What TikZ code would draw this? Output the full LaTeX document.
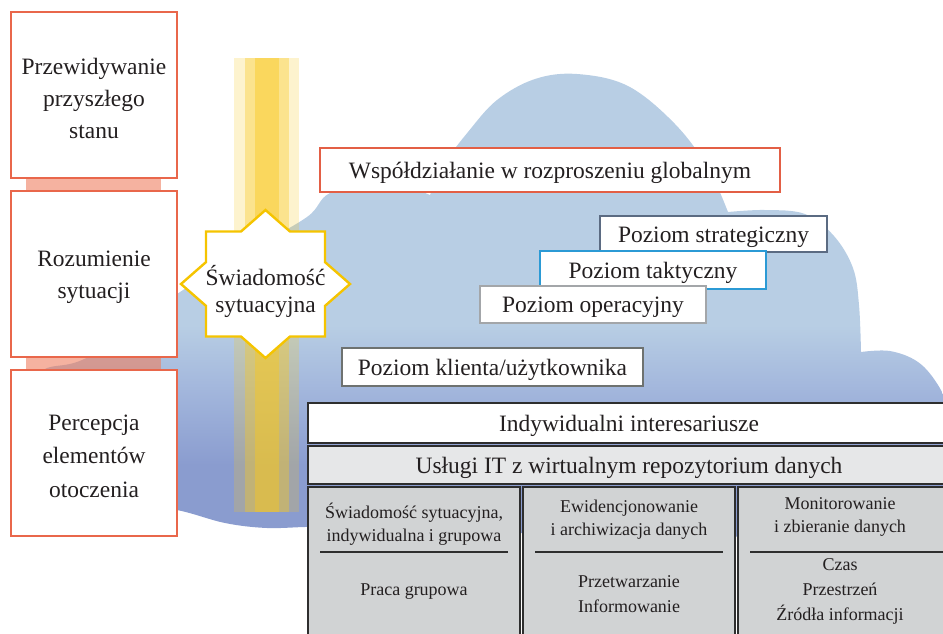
\documentclass[tikz,border=0pt]{standalone}
\usepackage{fontspec}
\setmainfont{Liberation Serif}
\usetikzlibrary{calc}
\definecolor{txt}{HTML}{231F20}
\definecolor{redb}{HTML}{E9674B}
\definecolor{redw}{HTML}{E35F45}
\definecolor{barc}{HTML}{EE7F60}
\definecolor{cloudtop}{HTML}{B8CEE4}
\definecolor{cloudmid}{HTML}{A2B6DC}
\definecolor{cloudbot}{HTML}{8A9CCF}
\definecolor{beamc}{HTML}{F8C81E}
\definecolor{starc}{HTML}{F5C400}
\definecolor{stratc}{HTML}{5B6B82}
\definecolor{taktc}{HTML}{2B9AD5}
\definecolor{operc}{HTML}{A3A6A9}
\definecolor{klic}{HTML}{6E7270}
\definecolor{bordc}{HTML}{2E2E2E}
\definecolor{uslc}{HTML}{E6E7E8}
\definecolor{subc}{HTML}{D1D3D4}
\pgfdeclareverticalshading{cloudshade}{100bp}{color(0bp)=(cloudbot); color(33bp)=(cloudbot); color(41bp)=(cloudmid); color(48bp)=(cloudtop); color(100bp)=(cloudtop)}
\tikzset{
  big/.style={font=\fontsize{17.6}{24}\selectfont, text=txt, align=center, inner sep=0pt},
  small/.style={font=\fontsize{13.5}{17.25}\selectfont, text=txt, align=center, inner sep=0pt},
  smallb/.style={font=\fontsize{13.5}{18.75}\selectfont, text=txt, align=center, inner sep=0pt},
  tdown/.style={yshift=-2.4pt},
  lbox/.style={draw=redb, line width=1.1pt, fill=white, minimum width=124.5pt, minimum height=124.5pt, inner sep=0pt},
  cbox/.style={fill=white, line width=1.1pt, inner sep=0pt},
  bbox/.style={draw=bordc, line width=1.2pt, inner sep=0pt},
  barfill/.style={fill=barc, fill opacity=0.6},
}
\begin{document}
\begin{tikzpicture}[x=0.75pt,y=-0.75pt]
\useasboundingbox (0,0) rectangle (943,633);
% cloud
\path[shading=cloudshade]
  plot[smooth, tension=0.6] coordinates {(430,195) (445,163) (468,132) (497,100) (535,79) (577,74) (628,86) (675,124) (708,168) (728,212)}
  -- plot[smooth, tension=0.6] coordinates {(728,212) (765,210) (805,214) (834,236) (853,268) (859,305) (861,352)}
  -- plot[smooth, tension=0.6] coordinates {(861,352) (890,351) (918,362) (938,385) (955,420)}
  -- (955,540) -- (330,530)
  -- plot[smooth, tension=0.6] coordinates {(330,530) (310,527) (267,528) (225,523) (177,510) (120,502) (60,495) (25,475) (11,440) (18,400) (43,370) (90,356) (183,290) (250,250) (307,217) (330,193) (380,180) (430,195)}
  -- cycle;
% left boxes
\node[lbox] (pred) at (94,95) {};
\node[lbox] (roz) at (94,274) {};
\node[lbox] (perc) at (94,453) {};
\node[big, tdown] (predt) at (pred) {Przewidywanie\\przyszłego\\stanu};
\node[big, tdown] (rozt) at (roz) {Rozumienie\\sytuacji};
\node[font=\fontsize{17.6}{25}\selectfont, text=txt, align=center, tdown] (perct) at (perc) {Percepcja\\elementów\\otoczenia};
\fill[barfill] ([xshift=12pt,yshift=-0.55pt]pred.south west) rectangle ([xshift=-12.75pt,yshift=0.55pt]roz.north east);
\fill[barfill] ([xshift=12pt,yshift=-0.55pt]roz.south west) rectangle ([xshift=-12.75pt,yshift=0.55pt]perc.north east);
% beam
\fill[beamc, fill opacity=0.22] (233.5,58) rectangle (245,512);
\fill[beamc, fill opacity=0.5] (245,58) rectangle (255,512);
\fill[beamc, fill opacity=0.72] (255,58) rectangle (278.5,512);
\fill[beamc, fill opacity=0.5] (278.5,58) rectangle (288.5,512);
\fill[beamc, fill opacity=0.22] (288.5,58) rectangle (299,512);
% star
\begin{scope}[shift={(265.5,284)}]
\draw[starc, line width=1.8pt, fill=white, line join=miter]
  (0,-74) -- (24.5,-52.5) -- (59.5,-52.5) -- (59.5,-21.9) -- (84.5,0) -- (59.5,21.9) -- (59.5,52.5) -- (24.5,52.5)
  -- (0,74) -- (-24.5,52.5) -- (-59.5,52.5) -- (-59.5,21.9) -- (-84.5,0) -- (-59.5,-21.9) -- (-59.5,-52.5) -- (-24.5,-52.5) -- cycle;
\end{scope}
\node[font=\fontsize{17.6}{20.25}\selectfont, text=txt, align=center] (star) at (265.5,291) {Świadomość\\sytuacyjna};
% cloud boxes
\node[cbox, draw=redw, line width=2.2pt, minimum width=345pt, minimum height=33pt] (wsp) at (550,170) {};
\node[big, tdown] (wspt) at (wsp) {Współdziałanie w rozproszeniu globalnym};
\node[cbox, draw=stratc, minimum width=170.25pt, minimum height=27pt] (strat) at (713.5,234) {};
\node[big, tdown] (stratt) at (strat) {Poziom strategiczny};
\node[cbox, draw=taktc, minimum width=169.5pt, minimum height=28.5pt] (takt) at (653,270) {};
\node[big, tdown] (taktt) at (takt) {Poziom taktyczny};
\node[cbox, draw=operc, minimum width=169.5pt, minimum height=27.75pt] (oper) at (593,304.5) {};
\node[big, tdown] (opert) at (oper) {Poziom operacyjny};
\node[cbox, draw=klic, minimum width=225.75pt, minimum height=28.5pt] (kli) at (492.5,367) {};
\node[big, tdown] (klit) at (kli) {Poziom klienta/użytkownika};
% bottom boxes
\node[bbox, fill=white, minimum width=481.5pt, minimum height=30pt] (ind) at (629,423) {};
\node[big, tdown] (indt) at (ind) {Indywidualni interesariusze};
\node[bbox, fill=uslc, minimum width=481.5pt, minimum height=28.5pt] (usl) at (629,465) {};
\node[big, tdown] (uslt) at (usl) {Usługi IT z wirtualnym repozytorium danych};
\node[bbox, fill=subc, minimum width=159pt, minimum height=118.5pt] (s1) at (414,566) {};
\node[bbox, fill=subc, minimum width=159pt, minimum height=118.5pt] (s2) at (629,566) {};
\node[bbox, fill=subc, minimum width=159pt, minimum height=118.5pt] (s3) at (844,566) {};
\coordinate (l1a) at (320,552); \coordinate (l1b) at (508,552);
\coordinate (l2a) at (535,552); \coordinate (l2b) at (723,552);
\coordinate (l3a) at (750,552); \coordinate (l3b) at (945,552);
\draw[bordc, line width=0.9pt] (l1a) -- (l1b);
\draw[bordc, line width=0.9pt] (l2a) -- (l2b);
\draw[bordc, line width=0.9pt] (l3a) -- (l3b);
\node[small] (t1a) at (414,524) {Świadomość sytuacyjna,\\indywidualna i grupowa};
\node[small] (t1b) at (414,592) {Praca grupowa};
\node[small] (t2a) at (629,520) {Ewidencjonowanie\\i archiwizacja danych};
\node[smallb] (t2b) at (629,594) {Przetwarzanie\\Informowanie};
\node[small] (t3a) at (840,517) {Monitorowanie\\i zbieranie danych};
\node[smallb] (t3b) at (840,591) {Czas\\Przestrzeń\\Źródła informacji};
\end{tikzpicture}
\end{document}
